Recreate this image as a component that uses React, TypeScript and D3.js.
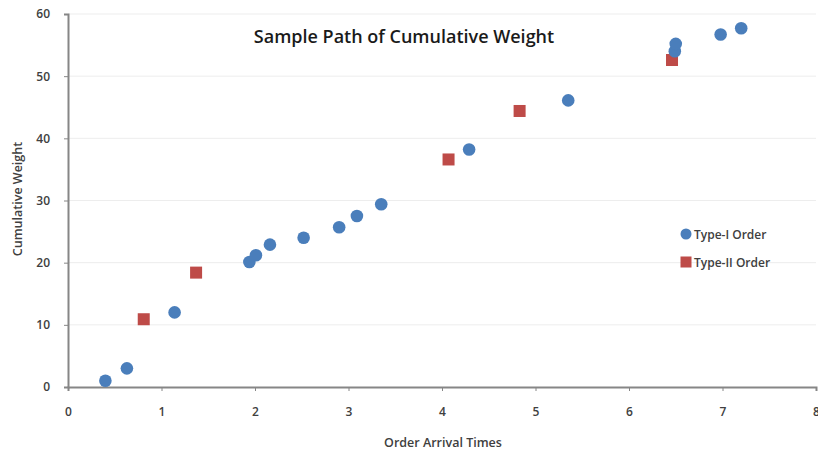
import { useEffect, useRef } from "react";
import * as d3 from "d3";

// Type-I orders (circles)
const typeIX = [0.4, 0.63, 1.14, 1.94, 2.01, 2.16, 2.52, 2.9, 3.09, 3.35, 4.29, 5.35, 6.49, 6.5, 6.98, 7.2];
const typeIY = [1.0, 3.0, 12.0, 20.1, 21.2, 22.9, 24.0, 25.7, 27.5, 29.4, 38.2, 46.1, 54.0, 55.2, 56.7, 57.7];
// Type-II orders (squares)
const typeIIX = [0.81, 1.37, 4.07, 4.83, 6.46];
const typeIIY = [10.9, 18.4, 36.6, 44.4, 52.6];

const xTicks = [0, 1, 2, 3, 4, 5, 6, 7, 8];
const yTicks = [0, 10, 20, 30, 40, 50, 60];

const BLUE = "#4a7ebb";
const RED = "#be4b48";

export default function App() {
  const svgRef = useRef<SVGSVGElement | null>(null);

  useEffect(() => {
    const W = 818, H = 454;
    const margin = { top: 14, right: 2, bottom: 67, left: 68 };
    const svg = d3.select(svgRef.current);
    svg.selectAll("*").remove();
    svg.attr("width", W).attr("height", H);

    const x = d3.scaleLinear().domain([0, 8]).range([margin.left, W - margin.right]);
    const y = d3.scaleLinear().domain([0, 60]).range([H - margin.bottom, margin.top]);
    const font = "'Open Sans', 'Liberation Sans', sans-serif";

    // grid
    svg.append("g").selectAll("line").data(yTicks.filter(t => t > 0)).join("line")
      .attr("x1", x(0)).attr("x2", x(8))
      .attr("y1", d => y(d)).attr("y2", d => y(d))
      .attr("stroke", "#ededed").attr("stroke-width", 1);

    // axes
    const xAxis = svg.append("g").attr("transform", `translate(0,${y(0)})`)
      .call(d3.axisBottom(x).tickValues(xTicks).tickSize(4).tickPadding(16).tickFormat(d3.format("d")));
    const yAxis = svg.append("g").attr("transform", `translate(${x(0)},0)`)
      .call(d3.axisLeft(y).tickValues(yTicks).tickSize(4).tickPadding(14).tickFormat(d3.format("d")));
    [xAxis, yAxis].forEach(a => {
      a.select(".domain").attr("stroke", "#868686").attr("stroke-width", 2);
      a.selectAll(".tick line").attr("stroke", "#868686");
      a.selectAll(".tick text").attr("fill", "#404040").style("font-family", font)
        .style("font-size", "12px").style("font-weight", "600");
    });

    const typeI = typeIX.map((v, i) => ({ x: v, y: typeIY[i] }));
    const typeII = typeIIX.map((v, i) => ({ x: v, y: typeIIY[i] }));

    svg.append("g").selectAll("rect").data(typeII).join("rect")
      .attr("x", d => x(d.x) - 6).attr("y", d => y(d.y) - 6)
      .attr("width", 12).attr("height", 12).attr("fill", RED);

    svg.append("g").selectAll("circle").data(typeI).join("circle")
      .attr("cx", d => x(d.x)).attr("cy", d => y(d.y))
      .attr("r", 6.3).attr("fill", BLUE);

    // title
    svg.append("text").attr("x", 404).attr("y", 43).attr("text-anchor", "middle")
      .style("font-family", font).style("font-size", "18px").style("font-weight", "600").attr("fill", "#1a1a1a")
      .text("Sample Path of Cumulative Weight");

    // axis labels
    svg.append("text").attr("x", 443).attr("y", 447).attr("text-anchor", "middle")
      .style("font-family", font).style("font-size", "12.5px").style("font-weight", "600").attr("fill", "#404040")
      .text("Order Arrival Times");
    svg.append("text").attr("transform", `translate(22,199) rotate(-90)`).attr("text-anchor", "middle")
      .style("font-family", font).style("font-size", "12.5px").style("font-weight", "600").attr("fill", "#404040")
      .text("Cumulative Weight");

    // legend
    const lg = svg.append("g").attr("transform", "translate(686,234)");
    lg.append("circle").attr("cx", 0).attr("cy", 0).attr("r", 5.5).attr("fill", BLUE);
    lg.append("text").attr("x", 8).attr("y", 4.5).style("font-family", font).style("font-size", "12px")
      .style("font-weight", "600").attr("fill", "#404040").text("Type-I Order");
    lg.append("rect").attr("x", -5.5).attr("y", 22.5).attr("width", 11).attr("height", 11).attr("fill", RED);
    lg.append("text").attr("x", 8).attr("y", 32.5).style("font-family", font).style("font-size", "12px")
      .style("font-weight", "600").attr("fill", "#404040").text("Type-II Order");
  }, []);

  return <svg ref={svgRef} style={{ position: "absolute", left: 0, top: 0 }}></svg>;
}
